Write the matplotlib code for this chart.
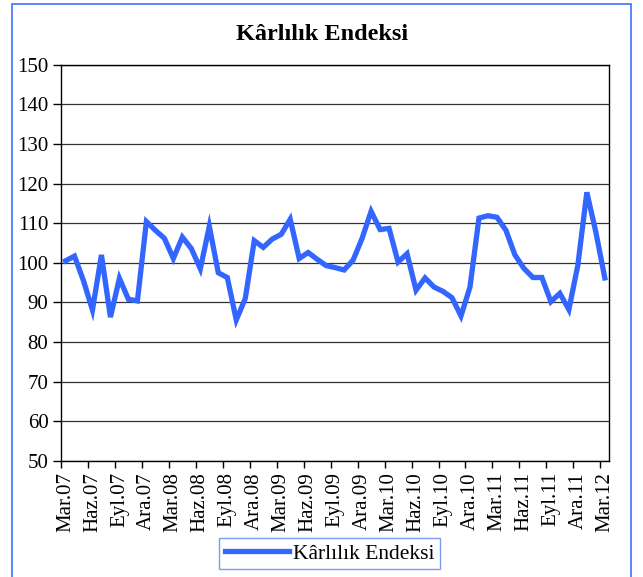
import numpy as np
import matplotlib.pyplot as plt
from matplotlib.patches import Rectangle

# Monthly index values, Mar.07 - Mar.12
values = [100.5, 101.7, 95.5, 88.1, 102.0, 86.3, 96.1, 90.8, 90.4, 110.4,
          108.2, 106.2, 101.1, 106.5, 103.6, 98.5, 109.2, 97.5, 96.3, 85.6,
          91.0, 105.6, 103.9, 106.0, 107.2, 111.0, 101.1, 102.6, 100.9, 99.3,
          98.8, 98.2, 100.7, 106.2, 113.0, 108.4, 108.7, 100.2, 102.3, 93.1,
          96.2, 93.9, 92.8, 91.2, 86.6, 93.9, 111.3, 111.9, 111.5, 108.2,
          102.0, 98.6, 96.3, 96.3, 90.2, 92.3, 88.2, 99.4, 117.8, 107.8, 96.2]
label_text = ["Mar.07", "Haz.07", "Eyl.07", "Ara.07", "Mar.08", "Haz.08", "Eyl.08",
              "Ara.08", "Mar.09", "Haz.09", "Eyl.09", "Ara.09", "Mar.10", "Haz.10",
              "Eyl.10", "Ara.10", "Mar.11", "Haz.11", "Eyl.11", "Ara.11", "Mar.12"]
series_name = "Kârlılık Endeksi"

plt.rcParams['font.family'] = ['Liberation Serif', 'DejaVu Serif']

fig = plt.figure(figsize=(6.43, 5.77), dpi=100)
ax = fig.add_axes([61/643, 1-461/577, (609.3-61)/643, (461-64.7)/577])

x = np.arange(len(values))
ax.plot(x, values, color='#3366ff', lw=3.8, solid_joinstyle='miter',
        label=series_name, zorder=3)

ax.set_ylim(50, 150)
ax.set_yticks(np.arange(50, 151, 10))
ax.grid(axis='y', color='#333333', lw=0.9)
ax.set_axisbelow(True)

# category axis: tick marks between categories, labels on every third month
ax.set_xlim(-0.5, len(values) - 0.5)
ax.set_xticks(np.arange(-0.5, len(values), 3))
ax.set_xticklabels([])
ax.set_xticks(np.arange(0, len(values), 3), minor=True)
ax.set_xticklabels(label_text, minor=True, rotation=90, fontsize=15)
ax.tick_params(axis='x', which='minor', length=0, pad=8)
ax.tick_params(axis='x', which='major', length=5, width=1, direction='out')
ax.tick_params(axis='y', length=6, width=1, labelsize=15, pad=3)

for sp in ax.spines.values():
    sp.set_color('black')
    sp.set_linewidth(1.0)

fig.text(322/643, 1-35/577, series_name, fontsize=17.5, fontweight='bold',
         ha='center', va='center')

leg = fig.legend(loc='center', bbox_to_anchor=(329.5/643, 1-553.5/577), fontsize=15.5,
                 frameon=True, fancybox=False, handlelength=3.0, handletextpad=0.15,
                 borderpad=0.25)
leg.get_frame().set_edgecolor('#5b82f0')
leg.get_frame().set_linewidth(1.0)

# outer chart border
fig.patches.append(Rectangle((12/643, -0.05), (631-12)/643, 1.05 - 4/577,
                             transform=fig.transFigure, fill=False,
                             edgecolor='#4d7cff', lw=1.3))

fig.savefig('out.png', dpi=100)
